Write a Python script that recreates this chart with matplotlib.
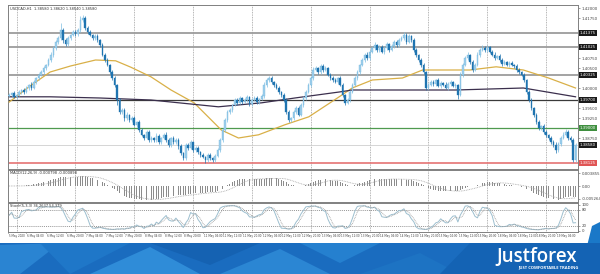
import numpy as np
import pandas as pd
import matplotlib
matplotlib.use("Agg")
import matplotlib.pyplot as plt
from matplotlib.patches import Polygon
from matplotlib.transforms import blended_transform_factory

# ---------------- data ----------------
symbol_header = "USDCAD,H1  1.38580 1.38620 1.38540 1.38580"
macd_header = "MACD(12,26,9) -0.000798 -0.000898"
stoch_header = "Stoch(5,3,3) 36.2637 54.379"

first_open = 1.3980
closes = [
    1.3983, 1.3988, 1.3978, 1.3983, 1.3990,
    1.3995, 1.3990, 1.4000, 1.4008, 1.4000, 1.4015,
    1.4025, 1.4033, 1.4040, 1.4050, 1.4058, 1.4070,
    1.4083, 1.4100, 1.4115, 1.4125,
    1.4145,
    1.4120, 1.4110, 1.4125,
    1.4133, 1.4140, 1.4135, 1.4145,
    1.4170, 1.4175,
    1.4150, 1.4140,
    1.4133, 1.4125, 1.4130, 1.4120,
    1.4108, 1.4083,
    1.4070, 1.4058, 1.4040,
    1.4025, 1.4008, 1.3970,
    1.3940, 1.3945, 1.3925,
    1.3933, 1.3920, 1.3925, 1.3908, 1.3915, 1.3895,
    1.3883, 1.3875, 1.3890, 1.3870, 1.3875,
    1.3870, 1.3880, 1.3865, 1.3875, 1.3883, 1.3870, 1.3858, 1.3875, 1.3865, 1.3870, 1.3855,
    1.3838, 1.3825,
    1.3858, 1.3850, 1.3865, 1.3845, 1.3850, 1.3840, 1.3833,
    1.3828, 1.3820, 1.3833, 1.3825, 1.3820, 1.3830, 1.3845,
    1.3870, 1.3895, 1.3920, 1.3940, 1.3945, 1.3958,
    1.3970, 1.3963, 1.3975, 1.3965, 1.3970, 1.3978, 1.3960, 1.3970, 1.3975, 1.3965, 1.3973, 1.3980,
    1.4008, 1.4020, 1.4025, 1.4015, 1.4008,
    1.4000, 1.3990, 1.3983, 1.3970,
    1.3940, 1.3920, 1.3925,
    1.3940, 1.3950, 1.3933, 1.3958,
    1.3975, 1.3990, 1.4008, 1.4025,
    1.4045, 1.4050, 1.4040, 1.4055, 1.4045, 1.4050,
    1.4033, 1.4025, 1.4020, 1.4015, 1.4025, 1.4008,
    1.3983, 1.3963, 1.3970, 1.3990, 1.4008,
    1.4025, 1.4040, 1.4058, 1.4070, 1.4083, 1.4075, 1.4090, 1.4100,
    1.4108, 1.4095, 1.4103, 1.4090, 1.4100, 1.4110, 1.4095, 1.4105, 1.4115, 1.4108, 1.4120, 1.4125,
    1.4133, 1.4115, 1.4130, 1.4120,
    1.4095, 1.4083, 1.4070, 1.4058,
    1.4040, 1.4000,
    1.4008, 1.4015, 1.4010, 1.4020, 1.4005, 1.4013, 1.4008, 1.4000, 1.4010, 1.4015, 1.4005, 1.4008,
    1.3983,
    1.4033, 1.4058, 1.4075, 1.4083, 1.4065,
    1.4045, 1.4058,
    1.4083, 1.4095, 1.4100, 1.4095, 1.4103,
    1.4090, 1.4083, 1.4075, 1.4080,
    1.4070, 1.4060, 1.4065, 1.4058, 1.4063,
    1.4058, 1.4055, 1.4045, 1.4040, 1.4033, 1.4020, 1.3990, 1.3970, 1.3950, 1.3933, 1.3915, 1.3900, 1.3905, 1.3890,
    1.3883, 1.3875, 1.3865,
    1.3858, 1.3845, 1.3860,
    1.3875, 1.3883, 1.3890,
    1.3875, 1.3870, 1.3820, 1.3858,
]

wick_up = [
    4, 3, 5, 2, 6, 3, 4, 5, 3, 6,
    4, 3, 5, 4, 6, 3, 5, 8, 4, 6,
    5, 17, 6, 4, 5, 3, 6, 4, 5, 9,
    8, 5, 4, 6, 3, 5, 4, 3, 5, 4,
    6, 3, 4, 5, 3, 6, 4, 5, 7, 3,
    4, 6, 3, 5, 4, 3, 6, 4, 5, 3,
    7, 4, 3, 5, 6, 4, 3, 5, 4, 6,
    4, 3, 5, 4, 6, 3, 4, 5, 3, 4,
    3, 5, 4, 3, 6, 5, 4, 6, 5, 4,
    6, 3, 5, 4, 6, 3, 5, 4, 3, 6,
    4, 5, 3, 6, 8, 5, 4, 6, 3, 5,
    4, 3, 5, 4, 6, 3, 5, 4, 6, 5,
    4, 6, 5, 4, 7, 5, 3, 6, 4, 5,
    3, 5, 4, 6, 3, 4, 5, 3, 6, 4,
    5, 4, 6, 3, 5, 4, 6, 5, 4, 6,
    3, 5, 4, 6, 5, 3, 4, 6, 5, 4,
    6, 8, 4, 5, 3, 4, 6, 3, 5, 4,
    3, 5, 4, 6, 3, 5, 4, 3, 6, 4,
    5, 3, 4, 3, 6, 5, 4, 6, 3, 5,
    4, 6, 5, 7, 4, 5, 3, 4, 6, 3,
    5, 4, 6, 3, 5, 4, 3, 5, 4, 3,
    4, 3, 5, 4, 3, 5, 4, 3, 5, 4,
    3, 5, 4, 6, 5, 4, 6, 7, 4, 5,
    6, 5,
]

wick_dn = [
    3, 5, 4, 6, 3, 4, 5, 3, 4, 6,
    3, 5, 4, 3, 6, 4, 3, 5, 6, 4,
    5, 6, 7, 4, 5, 6, 3, 4, 5, 4,
    5, 6, 4, 3, 5, 4, 6, 5, 4, 6,
    4, 5, 6, 5, 12, 6, 5, 7, 4, 5,
    6, 4, 5, 6, 4, 5, 3, 6, 4, 5,
    4, 5, 6, 3, 4, 5, 6, 4, 5, 7,
    5, 6, 4, 5, 3, 6, 4, 5, 6, 4,
    8, 4, 5, 6, 4, 3, 5, 4, 6, 5,
    4, 5, 3, 6, 4, 5, 3, 4, 6, 5,
    3, 4, 5, 3, 4, 5, 6, 4, 5, 3,
    5, 6, 4, 6, 5, 4, 6, 5, 4, 3,
    5, 4, 3, 5, 4, 3, 6, 4, 5, 3,
    4, 5, 6, 3, 5, 4, 6, 5, 4, 5,
    3, 4, 5, 4, 3, 5, 4, 6, 3, 5,
    4, 5, 3, 6, 4, 5, 3, 4, 6, 5,
    3, 4, 5, 3, 4, 5, 6, 4, 5, 6,
    5, 4, 3, 5, 4, 3, 5, 4, 3, 5,
    4, 3, 5, 10, 4, 5, 3, 4, 5, 6,
    3, 4, 5, 3, 4, 5, 3, 4, 5, 3,
    4, 5, 3, 4, 5, 3, 4, 5, 6, 4,
    6, 5, 4, 6, 5, 4, 5, 6, 4, 5,
    4, 6, 5, 7, 4, 5, 3, 4, 6, 5,
    6, 4,
]

# moving averages (read at sample candles)
ma_fast_idx = [0, 8.5, 16.7, 25, 35.2, 43.4, 49.6, 57.8, 66, 75.4, 86.5, 93.5, 101.7,
               112.4, 122.2, 134.6, 139.9, 148.1, 160.4, 168.6, 187.9, 198.6, 209.7, 220, 231]
ma_fast_val = [1.3965, 1.4005, 1.4040, 1.4055, 1.4070, 1.4068, 1.4052, 1.4028, 1.3995, 1.3963,
               1.3895, 1.3875, 1.3883, 1.3908, 1.3928, 1.3978, 1.4000, 1.4020, 1.4025, 1.4045,
               1.4045, 1.4053, 1.4045, 1.4025, 1.4000]
ma_slow_idx = [0, 16.7, 37, 57.8, 85.3, 103, 116.5, 134.6, 140, 160.4, 182.2, 209.7, 231]
ma_slow_val = [1.3978, 1.3978, 1.3975, 1.3970, 1.3953, 1.3963, 1.3975, 1.3990, 1.3995,
               1.3995, 1.3995, 1.4000, 1.3978]

levels_gray = [1.41375, 1.41025, 1.40325]
level_dark = 1.3970
level_green = 1.3900
level_red = 1.38125

date_labels = ["5 May 2020", "6 May 04:00", "6 May 12:00", "6 May 20:00", "7 May 04:00",
               "7 May 12:00", "7 May 20:00", "8 May 04:00", "8 May 12:00", "8 May 20:00",
               "11 May 04:00", "11 May 12:00", "11 May 20:00", "12 May 04:00", "12 May 12:00",
               "12 May 20:00", "13 May 04:00", "13 May 12:00", "13 May 20:00", "14 May 04:00",
               "14 May 12:00", "14 May 20:00", "15 May 04:00", "15 May 12:00", "15 May 20:00",
               "18 May 04:00", "18 May 12:00", "18 May 20:00", "19 May 04:00"]

brand = "Justforex"
slogan = "JUST COMFORTABLE TRADING"

# ---------------- derived ----------------
c = np.array(closes)
o = np.array([first_open] + closes[:-1])
pip = 0.0001
hi = np.maximum(o, c) + np.array(wick_up) * pip
lo = np.minimum(o, c) - np.array(wick_dn) * pip
N = len(c)
x = np.arange(N)

s = pd.Series(c)
macd = s.ewm(span=12, adjust=False).mean() - s.ewm(span=26, adjust=False).mean()
macd_sig = macd.rolling(9, min_periods=1).mean()

kp, slow, dp = 5, 3, 3
hh = pd.Series(hi).rolling(kp, min_periods=1).max()
ll = pd.Series(lo).rolling(kp, min_periods=1).min()
num = (s - ll).rolling(slow, min_periods=1).sum()
den = (hh - ll).rolling(slow, min_periods=1).sum()
stk = 100 * num / den
std = stk.rolling(dp, min_periods=1).mean()

# ---------------- figure ----------------
W, H = 600, 274
fig = plt.figure(figsize=(W / 100, H / 100), dpi=100)
fig.patch.set_facecolor("white")


def rect(x0, y0, x1, y1):
    return [x0 / W, 1 - y1 / H, (x1 - x0) / W, (y1 - y0) / H]


ax = fig.add_axes(rect(8, 5, 578, 169))
axm = fig.add_axes(rect(8, 170, 578, 202))
axs = fig.add_axes(rect(8, 203, 578, 232))

XMIN, XMAX = -0.5, 232.0
grid_x = [3 + 24 * j for j in range(10)]
label_x = [-0.5] + [8 * k - 1 for k in range(1, len(date_labels))]

for a in (ax, axm, axs):
    a.set_xlim(XMIN, XMAX)
    a.set_facecolor("white")
    for sp in a.spines.values():
        sp.set_color("#808080")
        sp.set_linewidth(0.7)
    a.set_xticks([])
    for gx in grid_x:
        a.axvline(gx, color="#8a8a8a", lw=0.5, ls=(0, (1.2, 1.2)), zorder=0)
    a.yaxis.tick_right()
    a.tick_params(axis="y", labelsize=2.8, length=1.5, width=0.4, pad=1,
                  colors="#555555", labelcolor="#444444")

# ----- main panel -----
ax.set_ylim(1.37975, 1.42075)
for lv in levels_gray:
    ax.axhline(lv, color="#9c9c9c", lw=1.3, zorder=1)
ax.axhline(level_dark, color="#3a3a3a", lw=0.9, zorder=1)
ax.axhline(level_green, color="#4f9a4f", lw=0.9, zorder=1)
ax.axhline(level_red, color="#e57373", lw=1.2, zorder=1)
ax.axhline(c[-1], color="#cfcfcf", lw=0.6, zorder=1)

ax.plot(ma_fast_idx, ma_fast_val, color="#d9b048", lw=0.9, zorder=3)
ax.plot(ma_slow_idx, ma_slow_val, color="#3b2f4d", lw=0.9, zorder=3)

bull = c >= o
bear = ~bull
col_bull = "#9fd0ec"
col_bear = "#1f74b0"
ax.vlines(x[bull], lo[bull], hi[bull], color="#7fbfe3", lw=0.5, zorder=4)
ax.vlines(x[bear], lo[bear], hi[bear], color=col_bear, lw=0.5, zorder=4)
body = np.maximum(np.abs(c - o), 0.00004)
ax.bar(x[bull], body[bull], bottom=np.minimum(o, c)[bull], width=0.62,
       color=col_bull, edgecolor="#6cb2dc", linewidth=0.25, zorder=5)
ax.bar(x[bear], body[bear], bottom=np.minimum(o, c)[bear], width=0.62,
       color=col_bear, edgecolor=col_bear, linewidth=0.25, zorder=5)

box_levels = [(levels_gray[0], "#1a1a1a"), (levels_gray[1], "#1a1a1a"),
              (levels_gray[2], "#1a1a1a"), (level_dark, "#1a1a1a"),
              (level_green, "#3f8f3f"), (c[-1], "#1a1a1a"), (level_red, "#e05555")]
yt_all = np.arange(1.3800, 1.4201, 0.0025)
yt = [v for v in yt_all if all(abs(v - b) > 0.0013 for b, _ in box_levels)]
ax.set_yticks(yt)
ax.set_yticklabels([f"{v:.5f}" for v in yt])

tr = blended_transform_factory(ax.transAxes, ax.transData)
for lv, fc in box_levels:
    ax.text(1.003, lv, f"{lv:.5f}", transform=tr, fontsize=2.8, color="white",
            va="center", ha="left", zorder=10,
            bbox=dict(boxstyle="square,pad=0.2", fc=fc, ec="none"))

ax.text(0.004, 0.985, symbol_header, transform=ax.transAxes, fontsize=2.6,
        color="#333333", va="top", ha="left")

# ----- MACD panel -----
M = 1.15 * max(np.abs(macd).max(), np.abs(macd_sig).max())
axm.set_ylim(-M, M)
axm.bar(x, macd, width=0.35, color="#8c8c8c", zorder=3)
axm.plot(x, macd_sig, color="#a8a8a8", lw=0.6, ls=(0, (1, 1)), zorder=4)
axm.set_yticks([0.8 * M, 0, -0.8 * M])
axm.set_yticklabels([f"{macd.max():.6f}", "0.00", f"{macd.min():.6f}"])
axm.text(0.004, 0.96, macd_header, transform=axm.transAxes, fontsize=2.6,
         color="#333333", va="top", ha="left")

# ----- Stochastic panel -----
axs.set_ylim(-4, 106)
axs.axhline(80, color="#707070", lw=0.5, ls=(0, (1.5, 1.5)))
axs.axhline(20, color="#707070", lw=0.5, ls=(0, (1.5, 1.5)))
axs.plot(x, stk, color="#9dbfcf", lw=0.7, zorder=3)
axs.plot(x, std, color="#9a9a9a", lw=0.6, ls=(0, (1, 1)), zorder=4)
axs.set_yticks([100, 80, 20, 0])
axs.set_yticklabels(["100", "80", "20", "0"])
axs.text(0.004, 0.96, stoch_header, transform=axs.transAxes, fontsize=2.6,
         color="#333333", va="top", ha="left")

trs = blended_transform_factory(axs.transData, axs.transAxes)
for lx, lab in zip(label_x, date_labels):
    axs.plot([lx, lx], [0, -0.05], transform=trs, color="#666666", lw=0.4, clip_on=False)
    axs.text(lx + 0.4, -0.07, lab, transform=trs, fontsize=2.0, color="#444444",
             va="top", ha="left", clip_on=False)

# ----- banner -----
axb = fig.add_axes([0, 0, 1, 31 / H])
axb.set_xlim(0, W)
axb.set_ylim(31, 0)
axb.axis("off")
axb.add_patch(Polygon([[0, 0], [W, 0], [W, 31], [0, 31]], closed=True, fc="#1a6cbf", ec="none"))
tri = [
    ([[0, 2], [60, 0], [20, 31], [0, 31]], "#2a84d2"),
    ([[40, 0], [130, 0], [70, 31]], "#1f77c8"),
    ([[90, 31], [150, 4], [200, 31]], "#2f8cd8"),
    ([[150, 0], [260, 0], [210, 22]], "#1562b2"),
    ([[220, 31], [280, 6], [330, 31]], "#2b86d3"),
    ([[300, 0], [380, 0], [340, 20]], "#2580cf"),
    ([[360, 31], [420, 10], [460, 31]], "#1d73c3"),
    ([[470, 0], [W, 0], [W, 31], [440, 31]], "#1463b4"),
]
for pts, fc in tri:
    axb.add_patch(Polygon(pts, closed=True, fc=fc, ec="none"))
axb.text(537, 14, brand, fontsize=13.5, color="white", family="Open Sans",
         fontweight="semibold", ha="center", va="center")
axb.text(548, 24.5, slogan, fontsize=3, color="white", family="Open Sans",
         fontweight="bold", ha="center", va="center")

# right blue tab
axt = fig.add_axes([0, 0, 1, 1], zorder=-1)
axt.set_xlim(0, W)
axt.set_ylim(H, 0)
axt.axis("off")
axt.add_patch(Polygon([[587, 246], [592, 226], [600, 222], [600, 246]], closed=True,
                      fc="#1a78c8", ec="none"))

fig.savefig("out.png", dpi=100, facecolor="white")
